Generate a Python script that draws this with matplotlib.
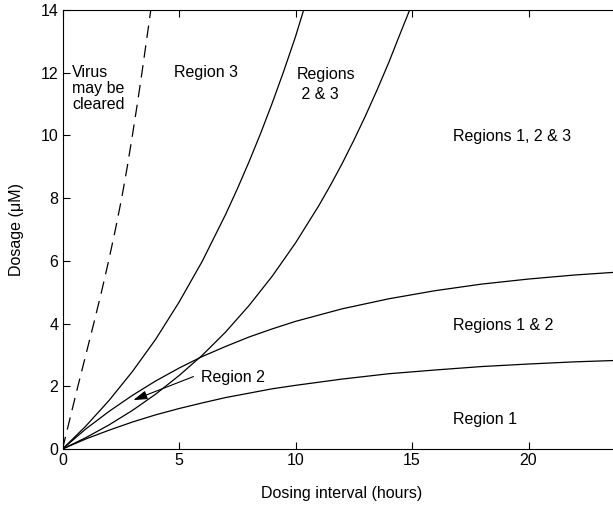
import matplotlib
matplotlib.use("Agg")
import matplotlib.pyplot as plt

plt.rcParams['font.family'] = ['Liberation Sans', 'DejaVu Sans']

# Dashed boundary: virus may be cleared (x = dosing interval, y = dosage)
dash_x = [0.0, 0.33, 0.66, 1.0, 1.34, 1.67, 1.98, 2.27, 2.54, 2.78, 3.0, 3.21, 3.41, 3.6, 3.79]
dash_y = [0.0, 1.0, 2.0, 3.0, 4.0, 5.0, 6.0, 7.0, 8.0, 9.0, 10.0, 11.0, 12.0, 13.0, 14.0]

# Boundary of region 3
r3_x = [0.0, 1.0, 2.0, 3.0, 4.0, 5.0, 6.0, 7.0, 7.5, 8.0, 8.5, 9.0, 9.5, 10.0, 10.35]
r3_y = [0.0, 0.73, 1.55, 2.47, 3.5, 4.68, 5.99, 7.48, 8.29, 9.15, 10.06, 11.03, 12.06, 13.15, 14.0]

# Boundary of regions 2 & 3
r23_x = [0.0, 1.0, 2.0, 3.0, 4.0, 5.0, 6.0, 7.0, 8.0, 9.0, 10.0, 11.0, 11.5, 12.0,
         12.5, 13.0, 13.5, 14.0, 14.5, 14.9]
r23_y = [0.0, 0.36, 0.77, 1.23, 1.75, 2.34, 2.99, 3.73, 4.57, 5.51, 6.57, 7.76, 8.41, 9.1,
         9.84, 10.62, 11.45, 12.32, 13.26, 14.0]

# Saturating boundaries
sat_x = [0, 1, 2, 3, 4, 5, 6, 7, 8, 9, 10, 12, 14, 16, 18, 20, 22, 24]
upper_y = [0.0, 0.64, 1.2, 1.71, 2.17, 2.58, 2.95, 3.27, 3.57, 3.83, 4.07, 4.47, 4.79,
           5.05, 5.26, 5.42, 5.55, 5.65]
lower_y = [0.0, 0.32, 0.6, 0.86, 1.09, 1.29, 1.47, 1.64, 1.78, 1.92, 2.03, 2.23, 2.4,
           2.52, 2.63, 2.71, 2.78, 2.83]

# Labels: (text, x, y of last-line baseline, line spacing)
labels = [
    ("Virus\nmay be\ncleared", 0.42, 10.83, 1.12),
    ("Region 3", 4.8, 11.85, 1.2),
    ("Regions\n 2 & 3", 10.05, 11.17, 1.42),
    ("Regions 1, 2 & 3", 16.75, 9.82, 1.2),
    ("Regions 1 & 2", 16.75, 3.78, 1.2),
    ("Region 1", 16.75, 0.81, 1.2),
]
region2_text = ("Region 2", 5.95, 2.14)
region2_arrow_tip = (3.04, 1.56)
region2_arrow_tail = (5.62, 2.31)

xticks = [0, 5, 10, 15, 20]
yticks = [0, 2, 4, 6, 8, 10, 12, 14]

fig = plt.figure(figsize=(6.13, 5.05), dpi=100)
ax = fig.add_axes([62.5 / 613, 56 / 505, (621.7 - 62.5) / 613, 439 / 505])

lw = 0.9
ax.plot(dash_x, dash_y, color='black', lw=lw, dashes=(10, 6))
ax.plot(r3_x, r3_y, color='black', lw=lw)
ax.plot(r23_x, r23_y, color='black', lw=lw)
ax.plot(sat_x, upper_y, color='black', lw=lw)
ax.plot(sat_x, lower_y, color='black', lw=lw)

fs = 11.5
for txt, x, y, ls in labels:
    ax.text(x, y, txt, fontsize=fs, ha='left', va='baseline', linespacing=ls)

ax.text(region2_text[1], region2_text[2], region2_text[0], fontsize=fs,
        ha='left', va='baseline')
ax.annotate("", xy=region2_arrow_tip, xytext=region2_arrow_tail,
            arrowprops=dict(arrowstyle='-|>,head_length=0.7,head_width=0.22',
                            color='black', lw=0.8,
                            mutation_scale=12, shrinkA=0, shrinkB=0))

ax.set_xlim(0, 24)
ax.set_ylim(0, 14)
ax.set_xticks(xticks)
ax.set_yticks(yticks)
ax.tick_params(direction='in', top=True, right=True, length=5, width=0.8,
               labelsize=fs, pad=3)
for s in ax.spines.values():
    s.set_linewidth(0.8)

ax.set_xlabel("Dosing interval (hours)", fontsize=fs, labelpad=13)
ax.set_ylabel("Dosage (\u03bcM)", fontsize=fs, labelpad=12)

fig.savefig("out.png", dpi=100)
